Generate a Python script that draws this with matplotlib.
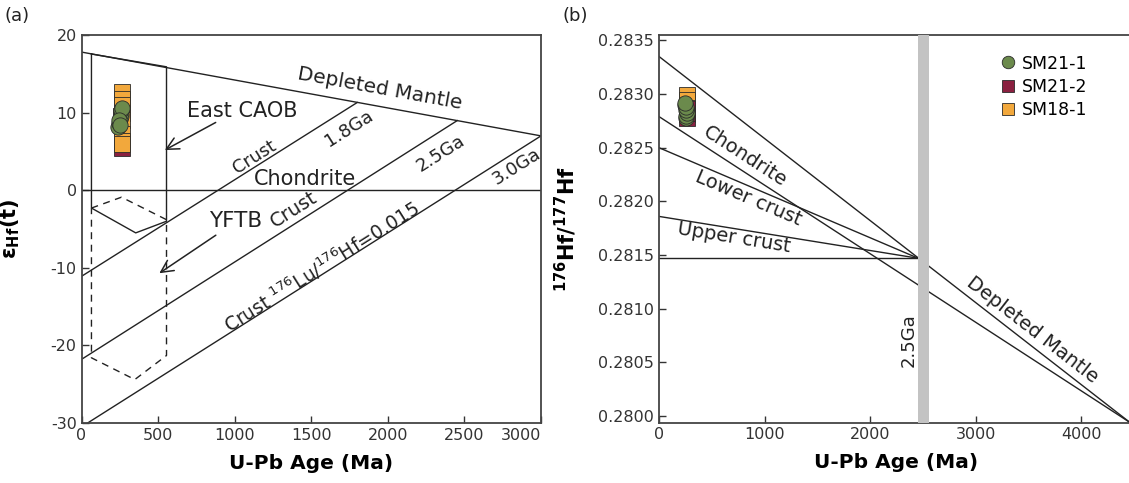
import numpy as np
import matplotlib
matplotlib.use("Agg")
import matplotlib.pyplot as plt
from matplotlib.lines import Line2D

# ---------------- panel (a): eHf(t) vs age ----------------
dm_a_age = [0, 3000]
dm_a_eps = [17.8, 7.0]
chur_a_age = [0, 3000]
chur_a_eps = [0, 0]
crust18_age = [0, 1800]
crust18_eps = [-11.1, 11.3]
crust25_age = [0, 2453]
crust25_eps = [-21.8, 8.97]
crust30_age = [0, 3000]
crust30_eps = [-30.5, 7.0]

caob_age = [65, 65, 354, 555, 555, 65]
caob_eps = [17.55, -2.3, -5.5, -4.0, 15.9, 17.55]
yftb_age = [65, 261, 555, 555, 348, 65, 65]
yftb_eps = [-2.3, -0.9, -3.8, -21.3, -24.4, -21.6, -2.3]

# zircon data, panel (a)
sm212_a_age = [262, 264, 255]
sm212_a_eps = [5.4, 10.0, 9.5]
sm181_a_age = [262, 263, 264, 265, 262, 263, 264]
sm181_a_eps = [12.6, 11.8, 11.0, 9.0, 7.2, 6.4, 5.9]
sm211_a_age = [238, 245, 250, 255, 258, 260, 262, 248, 252]
sm211_a_eps = [8.1, 8.6, 9.2, 9.6, 10.0, 10.3, 10.6, 9.0, 8.4]

# ---------------- panel (b): 176Hf/177Hf vs age ----------------
dm_b_age = [0, 4460]
dm_b_hf = [0.28335, 0.27994]
chur_b_age = [0, 4460]
chur_b_hf = [0.28279, 0.27994]
lower_age = [0, 2455]
lower_hf = [0.28250, 0.28147]
upper_age = [0, 2455]
upper_hf = [0.28186, 0.28147]
flat_age = [0, 2455]
flat_hf = [0.28147, 0.28147]
band_age = [2455, 2555]

sm181_b_age = [262, 264, 265, 263]
sm181_b_hf = [0.28299, 0.28294, 0.28287, 0.28281]
sm212_b_age = [262, 265, 264]
sm212_b_hf = [0.28278, 0.28282, 0.28286]
sm211_b_age = [250, 265, 260, 255, 262, 258, 252, 248]
sm211_b_hf = [0.28290, 0.28284, 0.28278, 0.28280, 0.28282, 0.28285, 0.28288, 0.28292]

green = "#6b8a4c"
maroon = "#8a2040"
orange = "#f2a83c"
edge = "#2a2a2a"
lc = "#222222"

plt.rcParams["font.family"] = ["DejaVu Sans"]
plt.rcParams["axes.unicode_minus"] = False

fig = plt.figure(figsize=(11.29, 4.83), dpi=100)
ax1 = fig.add_axes([81.5 / 1129, 60 / 483, 459.5 / 1129, 388 / 483])
ax2 = fig.add_axes([659 / 1129, 60.5 / 483, 471 / 1129, 387.5 / 483])

ax1.set_xlim(0, 3000)
ax1.set_ylim(-30, 20)
ax2.set_xlim(0, 4460)
ax2.set_ylim(0.27994, 0.28355)


def angle(ax, xs, ys):
    p = ax.transData.transform(np.column_stack([xs, ys]))
    return np.degrees(np.arctan2(p[1, 1] - p[0, 1], p[1, 0] - p[0, 0]))


for ax in (ax1, ax2):
    for s in ax.spines.values():
        s.set_linewidth(1.3)
        s.set_color("#444444")
    ax.tick_params(direction="in", length=5, width=1, labelsize=11.5,
                   colors="#333333")

# ---- panel a
kw = dict(color=lc, lw=1.0, zorder=2)
ax1.plot(dm_a_age, dm_a_eps, **kw)
ax1.plot(chur_a_age, chur_a_eps, **kw)
ax1.plot(crust18_age, crust18_eps, **kw)
ax1.plot(crust25_age, crust25_eps, **kw)
ax1.plot(crust30_age, crust30_eps, **kw)
ax1.plot(caob_age, caob_eps, **kw)
ax1.plot(yftb_age, yftb_eps, color=lc, lw=1.0, ls=(0, (5, 4)), zorder=2)

ax1.plot(sm212_a_age, sm212_a_eps, "s", ms=11, mfc=maroon, mec=edge, mew=0.6, zorder=4)
ax1.plot(sm181_a_age, sm181_a_eps, "s", ms=11, mfc=orange, mec=edge, mew=0.6, zorder=4)
ax1.plot(sm211_a_age, sm211_a_eps, "o", ms=11, mfc=green, mec=edge, mew=0.6, zorder=5)

ax1.set_xticks([0, 500, 1000, 1500, 2000, 2500, 3000])
ax1.set_yticks([-30, -20, -10, 0, 10, 20])
ax1.get_xticklabels()[-1].set_ha("right")
ax1.set_xlabel("U-Pb Age (Ma)", fontsize=14.5, fontweight="bold")
ax1.xaxis.set_label_coords(0.5, -0.08)
ax1.set_ylabel("ε$_{\\mathbf{Hf}}$(t)", fontsize=15, fontweight="bold")
ax1.yaxis.set_label_coords(-0.13, 0.5)

a_dm = angle(ax1, dm_a_age, dm_a_eps)
a_cr = angle(ax1, crust18_age, crust18_eps)
tc = "#222222"
ax1.text(1948, 13.1, "Depleted Mantle", rotation=a_dm, fontsize=14.5,
         ha="center", va="center", color=tc, rotation_mode="anchor")
ax1.text(1052, 10.2, "East CAOB", fontsize=15, ha="center", va="center", color=tc)
ax1.text(1462, 1.45, "Chondrite", fontsize=15, ha="center", va="center", color=tc)
ax1.text(1127, 4.3, "Crust", rotation=a_cr, fontsize=13, ha="center",
         va="center", color=tc, rotation_mode="anchor")
ax1.text(1749, 8.0, "1.8Ga", rotation=a_cr, fontsize=13, ha="center",
         va="center", color=tc, rotation_mode="anchor")
ax1.text(2347, 4.7, "2.5Ga", rotation=a_cr, fontsize=13, ha="center",
         va="center", color=tc, rotation_mode="anchor")
ax1.text(2840, 3.0, "3.0Ga", rotation=a_cr, fontsize=13, ha="center",
         va="center", color=tc, rotation_mode="anchor")
ax1.text(1009, -4.0, "YFTB", fontsize=15.5, ha="center", va="center", color=tc)
ax1.text(1385, -2.5, "Crust", rotation=a_cr, fontsize=14, ha="center",
         va="center", color=tc, rotation_mode="anchor")
ax1.text(1568, -9.9, "Crust $^{176}$Lu/$^{176}$Hf=0.015", rotation=a_cr,
         fontsize=13.5, ha="center", va="center", color=tc, rotation_mode="anchor")

arrow = dict(arrowstyle="->", lw=1.1, color=lc, mutation_scale=22)
ax1.annotate("", xy=(528, 5.0), xytext=(892, 8.9), arrowprops=arrow)
ax1.annotate("", xy=(493, -10.9), xytext=(892, -5.6), arrowprops=arrow)

# ---- panel b
ax2.plot(dm_b_age, dm_b_hf, **kw)
ax2.plot(chur_b_age, chur_b_hf, **kw)
ax2.plot(lower_age, lower_hf, **kw)
ax2.plot(upper_age, upper_hf, **kw)
ax2.plot(flat_age, flat_hf, **kw)
ax2.axvspan(band_age[0], band_age[1], color="#c3c3c3", lw=0, zorder=3)

ax2.plot(sm181_b_age, sm181_b_hf, "s", ms=11, mfc=orange, mec=edge, mew=0.6, zorder=4)
ax2.plot(sm212_b_age, sm212_b_hf, "s", ms=11, mfc=maroon, mec=edge, mew=0.6, zorder=4)
ax2.plot(sm211_b_age, sm211_b_hf, "o", ms=11, mfc=green, mec=edge, mew=0.6, zorder=5)

ax2.set_xticks([0, 1000, 2000, 3000, 4000])
ax2.set_yticks([0.2800, 0.2805, 0.2810, 0.2815, 0.2820, 0.2825, 0.2830, 0.2835])
ax2.set_yticklabels([f"{v:.4f}" for v in ax2.get_yticks()])
ax2.set_xlabel("U-Pb Age (Ma)", fontsize=14.5, fontweight="bold")
ax2.xaxis.set_label_coords(0.504, -0.08)
ax2.set_ylabel("$^{\\mathbf{176}}$Hf/$^{\\mathbf{177}}$Hf", fontsize=15, fontweight="bold")
ax2.yaxis.set_label_coords(-0.17, 0.5)

ax2.text(816, 0.28242, "Chondrite", rotation=angle(ax2, chur_b_age, chur_b_hf),
         fontsize=14, ha="center", va="center", color=tc, rotation_mode="anchor")
ax2.text(851, 0.28203, "Lower crust", rotation=angle(ax2, lower_age, lower_hf),
         fontsize=14, ha="center", va="center", color=tc, rotation_mode="anchor")
ax2.text(713, 0.28166, "Upper crust", rotation=angle(ax2, upper_age, upper_hf),
         fontsize=14, ha="center", va="center", color=tc, rotation_mode="anchor")
ax2.text(3537, 0.28080, "Depleted Mantle", rotation=angle(ax2, dm_b_age, dm_b_hf),
         fontsize=14, ha="center", va="center", color=tc, rotation_mode="anchor")
ax2.text(2366, 0.28071, "2.5Ga", rotation=90, fontsize=13, ha="center",
         va="center", color=tc)

handles = [
    Line2D([], [], ls="", marker="o", ms=9, mfc=green, mec=edge, mew=0.6),
    Line2D([], [], ls="", marker="s", ms=9, mfc=maroon, mec=edge, mew=0.6),
    Line2D([], [], ls="", marker="s", ms=9, mfc=orange, mec=edge, mew=0.6),
]
ax2.legend(handles, ["SM21-1", "SM21-2", "SM18-1"], loc="upper left",
           bbox_to_anchor=(0.707, 0.972), frameon=False, fontsize=12.5,
           handlelength=0.8, handletextpad=0.4, labelspacing=0.3, borderpad=0)

fig.text(4 / 1129, 1 - 16 / 483, "(a)", fontsize=13, va="center", color=tc)
fig.text(563 / 1129, 1 - 16 / 483, "(b)", fontsize=13, va="center", color=tc)

fig.savefig("out.png", dpi=100)
